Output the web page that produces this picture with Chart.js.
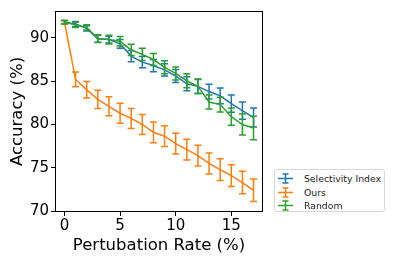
<!DOCTYPE html>
<html lang="en">
<head>
<meta charset="UTF-8">
<title>Accuracy vs Pertubation Rate</title>
<script src="https://cdn.jsdelivr.net/npm/chart.js"></script>
<style>
  * { margin: 0; padding: 0; box-sizing: border-box; }
  body { width: 399px; height: 266px; background: #fff; overflow: hidden; position: relative; font-family: 'DejaVu Sans', sans-serif; }
  #wrap { position: absolute; left: 0; top: 0; width: 399px; height: 266px; }
  .legend { position: absolute; left: 274px; top: 169px; width: 111px; height: 43px; border: 1px solid #d8d8d8; border-radius: 3px; padding: 2px 3px 0 2px; font-size: 9.3px; color: #222; background: #fff; }
  .legend div { display: flex; align-items: center; height: 13.5px; white-space: nowrap; }
  .legend svg { margin-right: 10px; }
</style>
</head>
<body>
<div id="wrap"><canvas id="chart" width="399" height="266"></canvas></div>
<div class="legend" id="legend"></div>
<script>
// x values (perturbation rate, %)
const rates = [0, 1, 2, 3, 4, 5, 6, 7, 8, 9, 10, 11, 12, 13, 14, 15, 16, 17];

const selectivity = [91.8, 91.6, 91.1, 89.9, 89.8, 89.3, 87.9, 87.2, 86.8, 86.3, 85.6, 84.7, 84.4, 83.8, 83.3, 82.4, 81.6, 80.8];
const selectivityErr = [0.2, 0.3, 0.3, 0.4, 0.4, 0.5, 0.65, 0.65, 0.7, 0.7, 0.75, 0.8, 0.8, 0.85, 0.9, 1.0, 1.0, 1.1];

const ours = [91.8, 85.2, 84.0, 82.9, 82.1, 81.3, 80.7, 80.0, 79.1, 78.65, 77.8, 77.1, 76.4, 75.5, 74.8, 74.1, 73.3, 72.4];
const oursErr = [0.2, 0.85, 0.95, 1.05, 1.1, 1.15, 1.15, 1.15, 1.2, 1.2, 1.2, 1.2, 1.2, 1.2, 1.25, 1.25, 1.3, 1.3];

const randomAcc = [91.8, 91.5, 91.2, 89.9, 89.8, 89.6, 88.6, 88.1, 87.5, 86.6, 85.9, 85.05, 84.4, 82.6, 82.3, 80.9, 80.0, 79.6];
const randomErr = [0.2, 0.3, 0.3, 0.45, 0.5, 0.55, 0.65, 0.7, 0.7, 0.75, 0.75, 0.8, 0.85, 0.8, 0.85, 1.0, 1.2, 1.35];

const xTicks = [0, 5, 10, 15];
const yTicks = [70, 75, 80, 85, 90];

const seriesNames = ['Selectivity Index', 'Ours', 'Random'];
const colors = ['#1f77b4', '#ff7f0e', '#2ca02c'];

function pts(ys) { return rates.map((x, i) => ({ x: x, y: ys[i] })); }

const errs = [selectivityErr, oursErr, randomErr];

// draws vertical error bars with caps, plus the full axes frame
const errorBars = {
  id: 'errorBars',
  beforeDatasetDraw(chart, args) {
    const ctx = chart.ctx;
    const xs = chart.scales.x, ys = chart.scales.y;
    const ds = chart.data.datasets[args.index];
    const e = errs[args.index];
    ctx.save();
    ctx.strokeStyle = ds.borderColor;
    ctx.lineWidth = 1.5;
    ds.data.forEach((p, i) => {
      const px = xs.getPixelForValue(p.x);
      const top = ys.getPixelForValue(p.y + e[i]);
      const bot = ys.getPixelForValue(p.y - e[i]);
      ctx.beginPath();
      ctx.moveTo(px, top); ctx.lineTo(px, bot);
      ctx.moveTo(px - 3.5, top); ctx.lineTo(px + 3.5, top);
      ctx.moveTo(px - 3.5, bot); ctx.lineTo(px + 3.5, bot);
      ctx.stroke();
    });
    ctx.restore();
  },
  afterDraw(chart) {
    const a = chart.chartArea, ctx = chart.ctx;
    ctx.save();
    ctx.strokeStyle = '#000';
    ctx.lineWidth = 1;
    ctx.strokeRect(a.left + 0.5, a.top + 0.5, a.right - a.left - 1, a.bottom - a.top - 1);
    ctx.restore();
  }
};

new Chart(document.getElementById('chart'), {
  type: 'line',
  data: {
    datasets: [0, 1, 2].map(k => ({
      label: seriesNames[k],
      data: pts([selectivity, ours, randomAcc][k]),
      borderColor: colors[k],
      backgroundColor: colors[k],
      borderWidth: 1.5,
      pointRadius: 0,
      tension: 0,
      order: 3 - k
    }))
  },
  options: {
    responsive: false,
    animation: false,
    layout: { padding: { top: 9, right: 136, left: 8, bottom: 10 } },
    plugins: { legend: { display: false }, tooltip: { enabled: false } },
    scales: {
      x: {
        type: 'linear',
        min: -0.85, max: 17.85,
        afterBuildTicks: s => { s.ticks = xTicks.map(v => ({ value: v })); },
        afterFit: s => { s.height = 44; },
        grid: { display: true, drawOnChartArea: false, drawTicks: true, tickLength: 4, color: '#000' },
        border: { display: false },
        ticks: { color: '#000', font: { family: 'DejaVu Sans', size: 15 }, padding: 1, maxRotation: 0 },
        title: { display: true, text: 'Pertubation Rate (%)', color: '#000', font: { family: 'DejaVu Sans', size: 16.5 }, padding: { top: 0, bottom: 0 } }
      },
      y: {
        min: 69.9, max: 93.1,
        afterBuildTicks: s => { s.ticks = yTicks.map(v => ({ value: v })); },
        afterFit: s => { s.width = 47; },
        grid: { display: true, drawOnChartArea: false, drawTicks: true, tickLength: 4, color: '#000' },
        border: { display: false },
        ticks: { color: '#000', font: { family: 'DejaVu Sans', size: 15 }, padding: 2 },
        title: { display: true, text: 'Accuracy (%)', color: '#000', font: { family: 'DejaVu Sans', size: 16.5 }, padding: { top: 0, bottom: 0 } }
      }
    }
  },
  plugins: [errorBars]
});

// legend with errorbar-style icons
const lg = document.getElementById('legend');
seriesNames.forEach((n, k) => {
  const row = document.createElement('div');
  const c = colors[k];
  row.innerHTML = '<svg width="17" height="11"><line x1="1" y1="5.5" x2="16" y2="5.5" stroke="' + c + '" stroke-width="1.5"/>' +
    '<line x1="8.5" y1="1" x2="8.5" y2="10" stroke="' + c + '" stroke-width="1.5"/>' +
    '<line x1="5.5" y1="1" x2="11.5" y2="1" stroke="' + c + '" stroke-width="1.5"/>' +
    '<line x1="5.5" y1="10" x2="11.5" y2="10" stroke="' + c + '" stroke-width="1.5"/></svg><span>' + n + '</span>';
  lg.appendChild(row);
});
</script>
</body>
</html>
